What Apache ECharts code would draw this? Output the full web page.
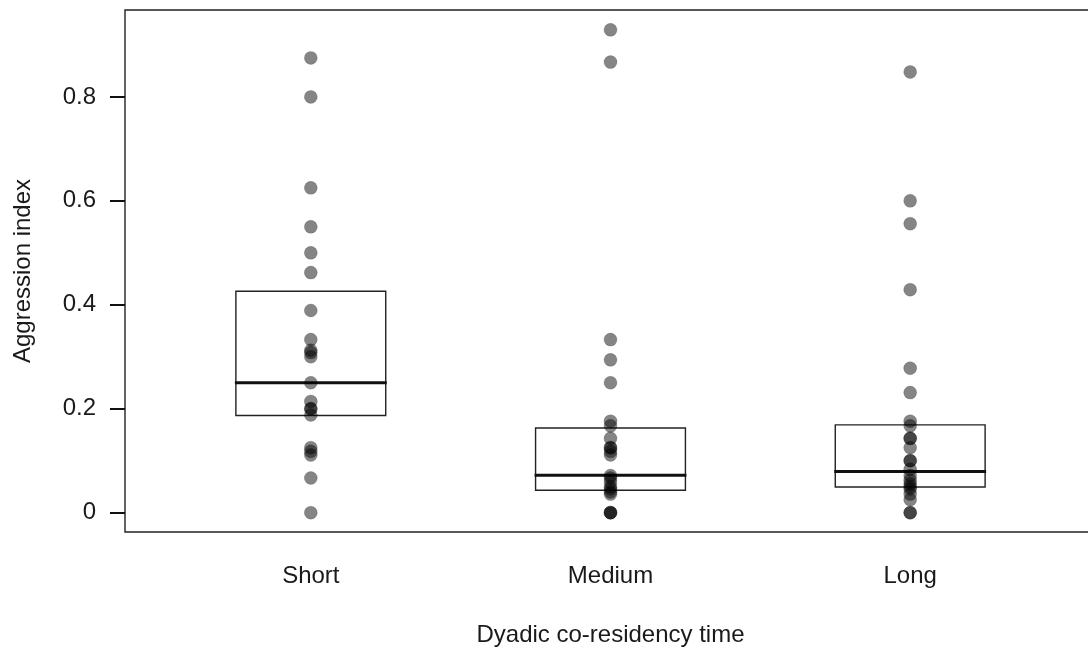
<!DOCTYPE html>
<html>
<head>
<meta charset="utf-8">
<script src="https://cdn.jsdelivr.net/npm/echarts@6/dist/echarts.min.js"></script>
<style>
html,body{margin:0;padding:0;background:#fff;overflow:hidden;}
#chart{width:1096px;height:654px;}
</style>
</head>
<body>
<div id="chart"></div>
<script>
// ---- data ----
var categories = ['Short', 'Medium', 'Long'];
var yTicks = [0, 0.2, 0.4, 0.6, 0.8];
var boxLow = [0.187, 0.043, 0.0495];
var boxMedian = [0.25, 0.072, 0.079];
var boxHigh = [0.426, 0.163, 0.169];
var shortValues = [0.875, 0.8, 0.625, 0.55, 0.5, 0.462, 0.389, 0.333, 0.3125, 0.308, 0.3, 0.25, 0.214, 0.2, 0.2, 0.188, 0.125, 0.118, 0.111, 0.0667, 0];
var mediumValues = [0.929, 0.867, 0.333, 0.294, 0.25, 0.176, 0.167, 0.143, 0.125, 0.125, 0.118, 0.111, 0.0714, 0.0667, 0.0588, 0.05, 0.0455, 0.04, 0.0357, 0, 0, 0];
var longValues = [0.848, 0.6, 0.556, 0.429, 0.278, 0.231, 0.176, 0.167, 0.143, 0.143, 0.125, 0.1, 0.1, 0.0833, 0.0714, 0.0625, 0.0556, 0.05, 0.0455, 0.0357, 0.025, 0, 0];

var groups = [shortValues, mediumValues, longValues];
var pointData = [];
groups.forEach(function (vals, gi) {
  vals.forEach(function (v) { pointData.push([gi + 1, v]); });
});
var boxData = categories.map(function (c, i) {
  return [i + 1, boxLow[i], boxMedian[i], boxHigh[i]];
});

var FONT = "'Liberation Sans', Arial, Helvetica, sans-serif";
var chart = echarts.init(document.getElementById('chart'), null, {renderer: 'canvas'});
chart.setOption({
  animation: false,
  backgroundColor: '#ffffff',
  grid: {
    left: 125, right: 0, top: 10, bottom: 122,
    show: true, borderColor: '#222', borderWidth: 1.4, backgroundColor: 'transparent'
  },
  xAxis: {
    type: 'value',
    min: 0.38, max: 3.62,
    axisLine: {show: false},
    axisTick: {show: false},
    splitLine: {show: false},
    axisLabel: {
      customValues: [1, 2, 3],
      formatter: function (v) { return categories[Math.round(v) - 1] || ''; },
      margin: 32,
      fontSize: 24, color: '#1a1a1a', fontFamily: FONT
    },
    name: 'Dyadic co-residency time',
    nameLocation: 'middle',
    nameGap: 91,
    nameTextStyle: {fontSize: 24, color: '#1a1a1a', fontFamily: FONT}
  },
  yAxis: {
    type: 'value',
    min: -0.0372, max: 0.9672,
    axisLine: {show: false},
    splitLine: {show: false},
    axisTick: {
      show: true, inside: false, length: 15,
      customValues: yTicks,
      lineStyle: {color: '#111', width: 2}
    },
    axisLabel: {
      customValues: yTicks,
      formatter: function (v) { return String(Math.round(v * 10) / 10); },
      margin: 29,
      fontSize: 24, color: '#1a1a1a', fontFamily: FONT
    },
    name: 'Aggression index',
    nameLocation: 'middle',
    nameRotate: 90,
    nameGap: 90,
    nameTextStyle: {fontSize: 24, color: '#1a1a1a', fontFamily: FONT}
  },
  series: [
    {
      type: 'custom',
      data: boxData,
      encode: {x: 0, y: [1, 2, 3]},
      z: 1,
      renderItem: function (params, api) {
        var x = api.value(0);
        var half = api.size([0.5, 0])[0] / 2;
        var pLow = api.coord([x, api.value(1)]);
        var pMed = api.coord([x, api.value(2)]);
        var pHigh = api.coord([x, api.value(3)]);
        return {
          type: 'group',
          children: [
            {
              type: 'rect',
              shape: {x: pLow[0] - half, y: pHigh[1], width: half * 2, height: pLow[1] - pHigh[1]},
              style: {fill: 'none', stroke: '#222', lineWidth: 1.4}
            },
            {
              type: 'line',
              shape: {x1: pMed[0] - half - 1, y1: pMed[1], x2: pMed[0] + half + 1, y2: pMed[1]},
              style: {stroke: '#111', lineWidth: 3}
            }
          ]
        };
      }
    },
    {
      type: 'scatter',
      data: pointData,
      z: 2,
      symbol: 'circle',
      symbolSize: 13,
      itemStyle: {color: 'rgba(0,0,0,0.6)', borderColor: 'rgba(0,0,0,0.25)', borderWidth: 0.8}
    }
  ]
});
</script>
</body>
</html>
